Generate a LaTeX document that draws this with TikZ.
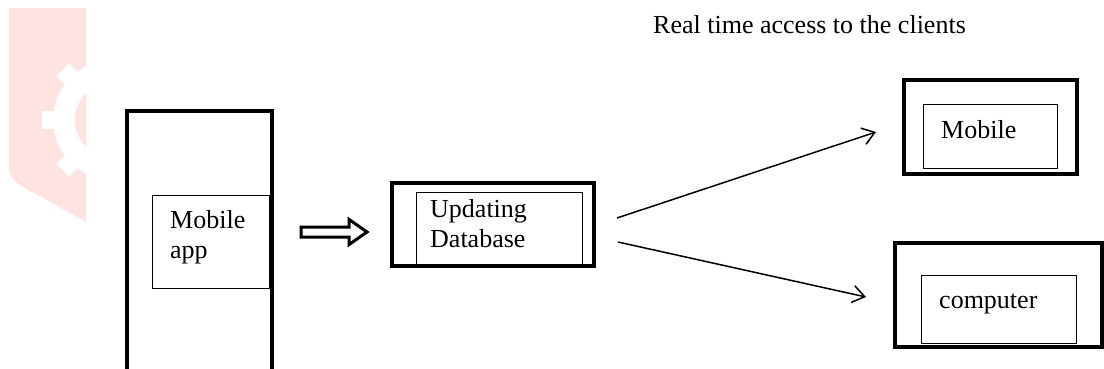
\documentclass[tikz,border=0pt]{standalone}
\usepackage{fontspec}
\setmainfont{Liberation Serif}
\usetikzlibrary{arrows.meta,shapes.arrows}
\definecolor{wmpink}{RGB}{255,226,226}
\begin{document}
\begin{tikzpicture}[x=1pt,y=-1pt,inner sep=0,
        outerbox/.style={draw,rectangle,line width=4pt},
        innerbox/.style={draw,rectangle,line width=1pt},
        txt/.style={font=\fontsize{26}{30}\selectfont,align=left,anchor=base west},
        flow/.style={line width=1.5pt,-{Straight Barb[length=12pt,width=17pt]}},
        ]
        \useasboundingbox (0,0) rectangle (1104,368);
        \clip (0,0) rectangle (1104,368);

        \begin{scope}
            \clip (0,0) rectangle (86,368);
            \fill[wmpink] (9,8) -- (86,8) -- (86,222) -- (40,196)
                .. controls (15,184) and (9,178) .. (9,168) -- cycle;
            \fill[white] (113,120) circle (60);
            \foreach \a in {0,45,...,315}{
                \fill[white,rotate around={\a:(113,120)}] (104,49) rectangle (122,62);
            }
            \fill[wmpink] (113,120) circle (38);
        \end{scope}

        \node[outerbox,minimum width=145pt,minimum height=279pt] (phone) at (199.5,250.5) {};
        \node[innerbox,minimum width=117pt,minimum height=93pt] (app) at (210.5,241.5) {};
        \node[txt] (apptxt) at (170,258) {Mobile\\app};

        \node[single arrow,draw,line width=3pt,inner xsep=0,inner ysep=3.5pt,
              single arrow head extend=7.5pt,single arrow tip angle=70,
              minimum height=66pt,anchor=tail] (push) at (299.5,232) {};

        \node[innerbox,minimum width=166pt,minimum height=74pt] (dbin) at (499,229) {};
        \node[outerbox,minimum width=202pt,minimum height=83pt] (db) at (493,224.5) {};
        \node[txt] (dbtxt) at (430,247) {Updating\\Database};

        \node[txt] (title) at (653,33) {Real time access to the clients};

        \node[outerbox,minimum width=173pt,minimum height=94pt] (phoneR) at (990.5,127) {};
        \node[innerbox,minimum width=134pt,minimum height=64pt] (mob) at (990,136) {};
        \node[txt] (mobtxt) at (941,138) {Mobile};

        \node[outerbox,minimum width=207pt,minimum height=104pt] (pc) at (998.5,295) {};
        \node[innerbox,minimum width=155pt,minimum height=68pt] (comp) at (998.5,309) {};
        \node[txt] (comptxt) at (939,308) {computer};

        \coordinate (s1) at (617,218);
        \coordinate (e1) at (876,132);
        \coordinate (s2) at (618,242);
        \coordinate (e2) at (866,297);
        \draw[flow] (s1) -- (e1);
        \draw[flow] (s2) -- (e2);
\end{tikzpicture}
\end{document}
